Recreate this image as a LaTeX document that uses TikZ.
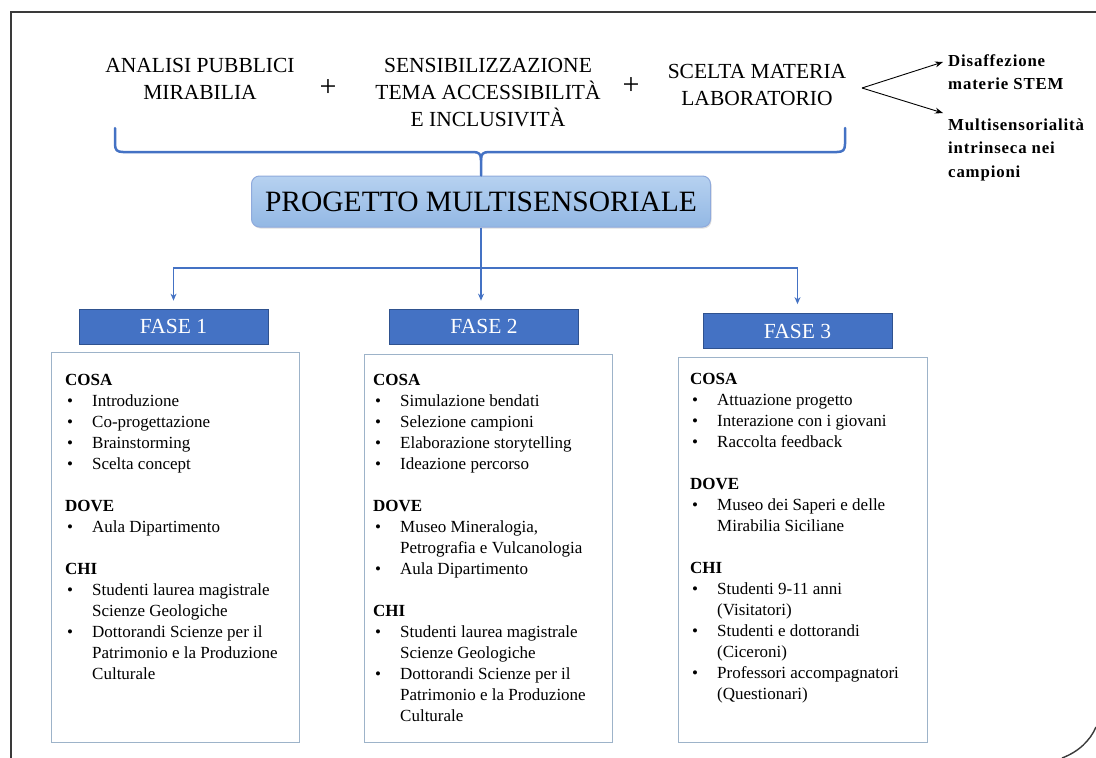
\documentclass[tikz,border=0pt]{standalone}
\usepackage{fontspec}
\setmainfont{Liberation Serif}
\newfontfamily\sidefont[LetterSpace=5]{Liberation Serif}
\usetikzlibrary{arrows.meta,shadows}
\definecolor{fblue}{HTML}{4472C4}
\definecolor{fborder}{HTML}{2F528F}
\definecolor{boxline}{HTML}{9DB3C9}
\definecolor{ptop}{HTML}{B6D1F0}
\definecolor{pbot}{HTML}{93B8E4}
\definecolor{pline}{HTML}{8FAADC}
\definecolor{framec}{HTML}{3A3A3A}
\newcommand\itm[1]{\makebox[27pt][l]{\hspace{2pt}\textbullet}#1}
\newcommand\cnt[1]{\hspace*{27pt}#1}
\begin{document}
\begin{tikzpicture}[x=1pt,y=-1pt,
  toptext/.style={inner sep=0, anchor=base, font=\fontsize{21.5}{27}\selectfont},
  plus/.style={inner sep=0, font=\fontsize{30}{30}\selectfont},
  sidetext/.style={inner sep=0, anchor=base west, font=\sidefont\bfseries\fontsize{16.8}{23.5}\selectfont},
  brace/.style={draw=fblue, line width=2.5pt, line cap=round, line join=round},
  prog/.style={draw=pline, line width=1pt, rounded corners=8pt, top color=ptop, bottom color=pbot,
    minimum width=459pt, minimum height=51pt, inner sep=0, font=\fontsize{29.5}{29.5}\selectfont,
    drop shadow={opacity=0.25, shadow xshift=1pt, shadow yshift=-1.5pt}},
  fase/.style={draw=fborder, line width=0.8pt, fill=fblue, text=white, minimum width=189pt,
    minimum height=35pt, inner sep=0, font=\fontsize{21.5}{21.5}\selectfont},
  body/.style={draw=boxline, line width=1pt},
  bodytext/.style={inner sep=0, anchor=base west, font=\fontsize{17}{21}\selectfont},
  barrow/.style={draw=fblue, line width=1.1pt, -{Stealth[length=7pt,width=6pt]}},
  karrow/.style={draw=black, line width=0.9pt, -{Stealth[length=8pt,width=6pt]}}
]
\useasboundingbox (0,0) rectangle (1096,758);
\fill[white] (0,0) rectangle (1096,758);
% outer frame
\draw[framec, line width=1.6pt] (1096,12) -- (11,12) -- (11,758);
\draw[framec, line width=1.4pt] (1062,758) .. controls (1078,752) and (1090,741) .. (1096,727);

% top texts
\node[toptext] (t1) at (200,72.7) {\parbox[t]{260pt}{\centering ANALISI PUBBLICI\\MIRABILIA}};
\node[plus] (p1) at (328,88) {+};
\node[toptext] (t2) at (488,72.5) {\parbox[t]{260pt}{\centering SENSIBILIZZAZIONE\\TEMA ACCESSIBILITÀ\\E INCLUSIVITÀ}};
\node[plus] (p2) at (631,86) {+};
\node[toptext] (t3) at (757,78.5) {\parbox[t]{260pt}{\centering SCELTA MATERIA\\LABORATORIO}};

% side texts and arrows
\coordinate (fork) at (862,88);
\node[sidetext] (s1) at (948,66) {\parbox[t]{150pt}{\raggedright Disaffezione\\materie STEM}};
\node[sidetext] (s2) at (948,130) {\parbox[t]{150pt}{\raggedright Multisensorialità\\intrinseca nei\\campioni}};
\coordinate (s1tip) at (943,62);
\coordinate (s2tip) at (943,113);
\draw[karrow] (fork) -- (s1tip);
\draw[karrow] (fork) -- (s2tip);

% project box
\node[prog] (prog) at (481,201.5) {PROGETTO MULTISENSORIALE};

% brace
\draw[brace] (115,128) -- (115,144) .. controls (115,150) and (117,152) .. (123,152) -- (473,152)
  .. controls (479,152) and (481,154) .. (481,160) -- (prog.north);
\draw[brace] (845,128) -- (845,144) .. controls (845,150) and (843,152) .. (837,152) -- (489,152)
  .. controls (483,152) and (481,154) .. (481,160);

% phase headers
\node[fase] (f1) at (173.5,326.5) {FASE 1};
\node[fase] (f2) at (484,326.5) {FASE 2};
\node[fase] (f3) at (797.5,331) {FASE 3};

% connectors
\coordinate (junc) at (481,268);
\draw[barrow, shorten >=8pt] (prog.south) -- (prog.south |- f2.north);
\draw[barrow, shorten >=8pt] (junc) -| (f1.north);
\draw[barrow, shorten >=9pt] (junc) -| (f3.north);

% body boxes
\draw[body] (51,352) rectangle (299,742);
\draw[body] (364,354) rectangle (612,742);
\draw[body] (678,357) rectangle (927,742);

\node[bodytext] (b1) at (65,385) {\parbox[t]{230pt}{%
\textbf{COSA}\\
\itm{Introduzione}\\
\itm{Co-progettazione}\\
\itm{Brainstorming}\\
\itm{Scelta concept}\\[21pt]
\textbf{DOVE}\\
\itm{Aula Dipartimento}\\[21pt]
\textbf{CHI}\\
\itm{Studenti laurea magistrale}\\
\cnt{Scienze Geologiche}\\
\itm{Dottorandi Scienze per il}\\
\cnt{Patrimonio e la Produzione}\\
\cnt{Culturale}}};

\node[bodytext] (b2) at (373,385) {\parbox[t]{230pt}{%
\textbf{COSA}\\
\itm{Simulazione bendati}\\
\itm{Selezione campioni}\\
\itm{Elaborazione storytelling}\\
\itm{Ideazione percorso}\\[21pt]
\textbf{DOVE}\\
\itm{Museo Mineralogia,}\\
\cnt{Petrografia e Vulcanologia}\\
\itm{Aula Dipartimento}\\[21pt]
\textbf{CHI}\\
\itm{Studenti laurea magistrale}\\
\cnt{Scienze Geologiche}\\
\itm{Dottorandi Scienze per il}\\
\cnt{Patrimonio e la Produzione}\\
\cnt{Culturale}}};

\node[bodytext] (b3) at (690,384) {\parbox[t]{230pt}{%
\textbf{COSA}\\
\itm{Attuazione progetto}\\
\itm{Interazione con i giovani}\\
\itm{Raccolta feedback}\\[21pt]
\textbf{DOVE}\\
\itm{Museo dei Saperi e delle}\\
\cnt{Mirabilia Siciliane}\\[21pt]
\textbf{CHI}\\
\itm{Studenti 9-11 anni}\\
\cnt{(Visitatori)}\\
\itm{Studenti e dottorandi}\\
\cnt{(Ciceroni)}\\
\itm{Professori accompagnatori}\\
\cnt{(Questionari)}}};
\end{tikzpicture}
\end{document}
